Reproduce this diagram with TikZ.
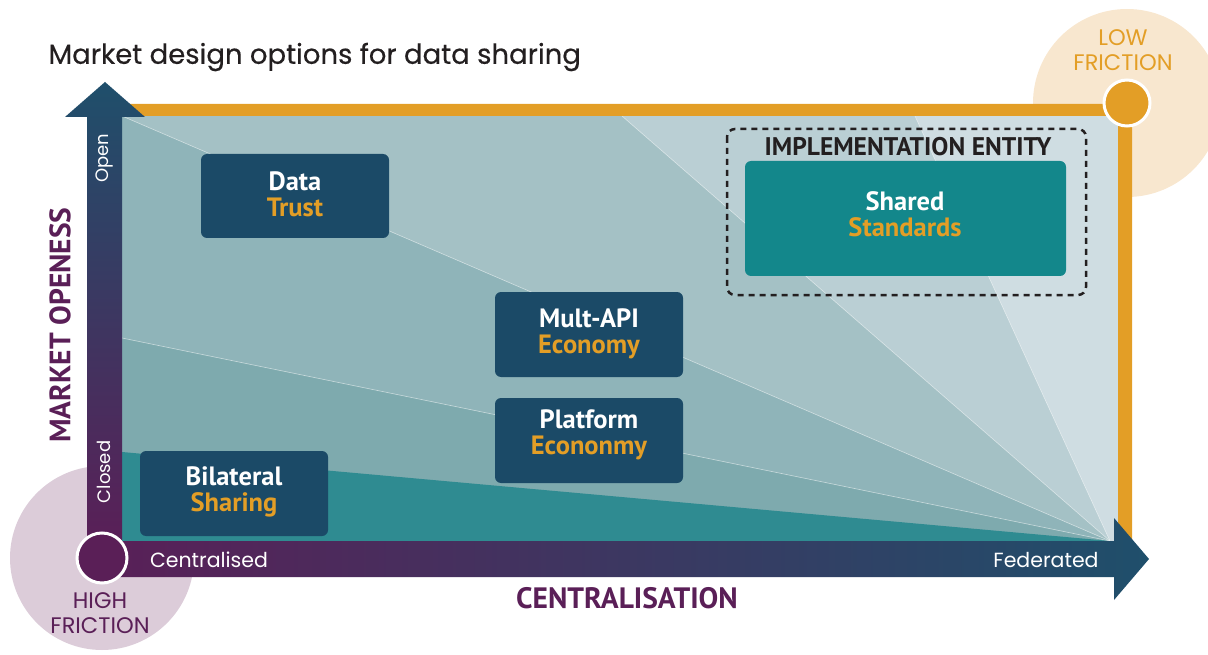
\documentclass[tikz,border=0pt]{standalone}
\usepackage{fontspec}
\newfontfamily\roundfont{Poppins}
\newfontfamily\roundbold{Poppins}[FakeBold=0.4]
\newfontfamily\boxfont{PT Sans}
\definecolor{axblue}{HTML}{1F4F6B}
\definecolor{axpurple}{HTML}{5A1F57}
\definecolor{orng}{HTML}{E39E26}
\definecolor{boxblue}{HTML}{1B4A67}
\definecolor{boxteal}{HTML}{13878B}
\definecolor{paleP}{HTML}{DCCCD9}
\definecolor{paleO}{HTML}{F8E7CF}
\definecolor{wA}{HTML}{CFDDE2}
\definecolor{wB}{HTML}{BACFD4}
\definecolor{wC}{HTML}{A4C1C5}
\definecolor{wD}{HTML}{8FB4B9}
\definecolor{wE}{HTML}{7EAAAE}
\definecolor{wF}{HTML}{2F8B91}
\definecolor{inkdark}{HTML}{231F20}
\begin{document}
\begin{tikzpicture}[x=1pt,y=-1pt,
  optbox/.style={fill=boxblue, rounded corners=6pt, draw=none},
  optlabel/.style={align=center, text=white, font=\boxfont\bfseries\fontsize{26.5}{26}\selectfont},
  raysep/.style={draw=white, draw opacity=0.55, line width=0.6pt},
  roundtxt/.style={font=\roundfont\fontsize{18}{22}\selectfont},
  axtitle/.style={text=axpurple, font=\boxfont\bfseries\fontsize{29.5}{32}\selectfont},
  friction/.style={align=center, font=\roundfont\fontsize{22.5}{25}\selectfont}
]
\useasboundingbox (0,0) rectangle (1208,655);
% pale halo circles
\fill[paleP] (102,558) circle (92);
\fill[paleO] (1127,103) circle (94);
% plot wedges
\coordinate (P) at (1110,541);
\fill[wA] (122,116) rectangle (1118,541);
\fill[wB] (122,116) -- (915,116) -- (P) -- (122,541) -- cycle;
\fill[wC] (122,116) -- (622,116) -- (P) -- (122,541) -- cycle;
\fill[wD] (122,116) -- (P) -- (122,541) -- cycle;
\fill[wE] (122,338) -- (P) -- (122,541) -- cycle;
\fill[wF] (122,452) -- (P) -- (122,541) -- cycle;
\draw[raysep] (915,116) -- (P);
\draw[raysep] (622,116) -- (P);
\draw[raysep] (122,116) -- (P);
\draw[raysep] (122,338) -- (P);
% orange band
\fill[orng] (122,104) -- (1132,104) -- (1132,541) -- (1118,541) -- (1118,116) -- (122,116) -- cycle;
% vertical axis arrow
\shade[top color=axblue, bottom color=axpurple]
  (87,545) -- (87,117) -- (65,117) -- (105,82) -- (145,117) -- (122,117) -- (122,545) -- cycle;
% horizontal axis arrow
\shade[left color=axpurple, right color=axblue]
  (87,541) -- (1114,541) -- (1114,518) -- (1149,559) -- (1114,600) -- (1114,577) -- (87,577) -- cycle;
% corner circles
\fill[axpurple, draw=white, line width=3pt] (102,558) circle (25);
\fill[orng, draw=white, line width=3pt] (1127,103) circle (23);
% title
\node[anchor=west, text=inkdark, font=\roundbold\fontsize{27.5}{30}\selectfont] (title) at (45,57) {Market design options for data sharing};
% friction labels
\node[friction, text=axpurple] (high) at (100,613) {HIGH\\FRICTION};
\node[friction, text=orng] (low) at (1123,50) {LOW\\FRICTION};
% axis end labels
\node[roundtxt, text=white, rotate=90] (open) at (104,158) {Open};
\node[roundtxt, text=white, rotate=90] (closed) at (104,472) {Closed};
\node[roundtxt, text=white, font=\roundfont\fontsize{20.5}{24}\selectfont] (cent) at (209,560) {Centralised};
\node[roundtxt, text=white, font=\roundfont\fontsize{20.5}{24}\selectfont] (fed) at (1046,560) {Federated};
% axis titles
\node[axtitle, rotate=90] (mo) at (60,325) {MARKET OPENESS};
\node[axtitle] (ca) at (627,598) {CENTRALISATION};
% implementation entity
\draw[inkdark, line width=2.5pt, dash pattern=on 6pt off 5pt, rounded corners=8pt] (727,129) rectangle (1086,295);
\node[text=inkdark, font=\boxfont\bfseries\fontsize{25.5}{28}\selectfont] (ie) at (908,147) {IMPLEMENTATION ENTITY};
% option boxes
\fill[optbox, fill=boxteal] (745,161) rectangle (1066,276);
\node[optlabel] (shared) at (905,214) {Shared\\\textcolor{orng}{Standards}};
\fill[optbox] (201,154) rectangle (389,238);
\node[optlabel] (data) at (295,194) {Data\\\textcolor{orng}{Trust}};
\fill[optbox] (495,292) rectangle (683,377);
\node[optlabel] (mult) at (589,334) {Mult-API\\\textcolor{orng}{Economy}};
\fill[optbox] (495,398) rectangle (683,483);
\node[optlabel] (plat) at (589,435) {Platform\\\textcolor{orng}{Econonmy}};
\fill[optbox] (140,451) rectangle (328,536);
\node[optlabel] (bil) at (234,492) {Bilateral\\\textcolor{orng}{Sharing}};
\end{tikzpicture}
\end{document}
